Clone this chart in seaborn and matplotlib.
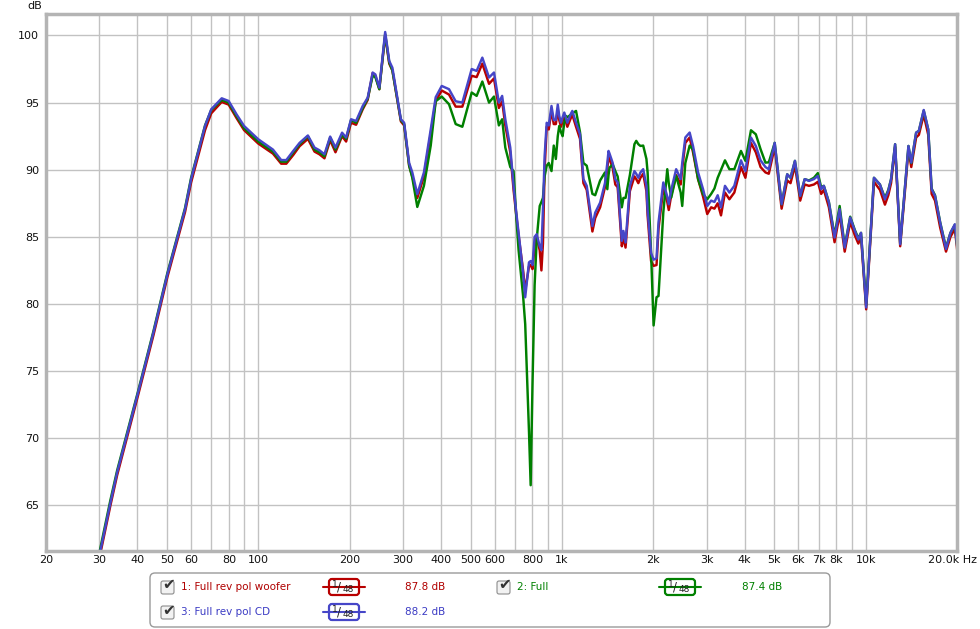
import matplotlib
matplotlib.use("Agg")
import matplotlib.pyplot as plt
import matplotlib.transforms as mtrans
from matplotlib.patches import FancyBboxPatch
from matplotlib.lines import Line2D
from matplotlib.ticker import NullFormatter
import pandas as pd
import seaborn as sns

# frequency points (Hz), shared by all three traces
freq = [30, 32.6, 34.3, 40.2, 45.2, 50.2, 57.4, 60.1, 66.8, 70,
        75.8, 79.9, 84.8, 89.8, 100, 111.8, 119, 123.7, 130.4, 136.8,
        145.7, 153.2, 159, 165.2, 172.5, 179.6, 188.8, 194.7, 202.1, 210,
        220.8, 229.3, 238.1, 243, 250.4, 261.8, 270, 276.5, 294.9, 302.3,
        314, 321.6, 334, 351.2, 369.8, 384, 402, 424.8, 446.8, 470,
        504.5, 523.8, 546.9, 575.4, 597.4, 620, 635.6, 651, 676, 693,
        706, 720, 745, 757, 779, 789, 800, 813, 826, 845,
        856, 866, 877, 891, 905, 924, 940, 955, 969, 980,
        993, 1005, 1018, 1033, 1042, 1072, 1082, 1113, 1147, 1177,
        1207, 1260, 1287, 1336, 1386, 1411, 1424, 1435, 1470, 1499,
        1526, 1575, 1594, 1620, 1674, 1733, 1757, 1785, 1814, 1852,
        1898, 1915, 1966, 2004, 2049, 2080, 2157, 2223, 2248, 2291,
        2378, 2461, 2490, 2549, 2634, 2702, 2808, 2916, 3010, 3101,
        3179, 3258, 3341, 3443, 3560, 3696, 3887, 4020, 4193, 4350,
        4510, 4680, 4800, 5020, 5290, 5520, 5660, 5853, 6091, 6302,
        6511, 6758, 6963, 7140, 7287, 7571, 7904, 8214, 8535, 8898,
        9222, 9466, 9660, 10045, 10656, 11149, 11580, 11880, 12130, 12510,
        13000, 13550, 13840, 14140, 14670, 14980, 15540, 16080, 16500, 16930,
        17600, 18400, 19030, 19680, 20100]

woofer_db = [61.1, 65.0, 67.25, 73.2, 77.7, 82.0, 86.85, 89.05, 92.95, 94.2,
             95.05, 94.85, 93.85, 92.95, 91.95, 91.2, 90.45, 90.45, 91.1, 91.75,
             92.3, 91.35, 91.15, 90.85, 92.2, 91.3, 92.5, 92.1, 93.5, 93.35,
             94.5, 95.2, 97.2, 97.0, 96.0, 100.0, 97.9, 97.4, 93.6, 93.3,
             90.3, 89.5, 87.9, 89.5, 92.7, 95.1, 95.9, 95.6, 94.7, 94.7,
             97.0, 96.9, 97.9, 96.4, 96.8, 94.6, 95.1, 93.3, 91.3, 88.5,
             86.8, 85.1, 82.5, 81.0, 82.8, 82.9, 82.6, 84.3, 85.0, 84.0,
             82.5, 84.5, 90.0, 93.2, 93.0, 94.4, 93.4, 93.4, 94.5, 93.7,
             93.2, 93.6, 93.9, 93.5, 93.2, 93.9, 94.1, 93.2, 92.3, 89.0,
             88.5, 85.4, 86.4, 87.2, 88.7, 90.1, 91.0, 90.8, 90.1, 88.9,
             88.7, 84.3, 85.0, 84.2, 88.4, 89.5, 89.3, 89.0, 89.4, 89.7,
             88.4, 86.6, 83.2, 82.84, 82.9, 85.6, 88.6, 87.6, 87.0, 88.1,
             89.6, 88.9, 90.1, 92.0, 92.4, 91.3, 89.3, 88.0, 86.7, 87.2,
             87.1, 87.5, 86.6, 88.3, 87.8, 88.3, 90.2, 89.4, 92.0, 91.3,
             90.2, 89.8, 89.7, 91.7, 87.1, 89.2, 89.0, 90.3, 87.7, 88.9,
             88.8, 88.9, 89.1, 88.2, 88.5, 87.2, 84.6, 86.7, 83.9, 86.1,
             85.1, 84.5, 85.0, 79.6, 89.1, 88.5, 87.4, 88.1, 89.0, 91.7,
             84.3, 89.0, 91.5, 90.2, 92.4, 92.6, 94.1, 92.6, 88.2, 87.7,
             85.7, 83.9, 85.0, 85.6, 83.7]

full_db = [61.5, 65.4, 67.6, 73.5, 78.0, 82.3, 87.15, 89.4, 93.3, 94.45,
           95.2, 95.0, 94.0, 93.1, 92.1, 91.35, 90.6, 90.6, 91.3, 91.9,
           92.5, 91.5, 91.3, 91.0, 92.4, 91.5, 92.6, 92.3, 93.7, 93.5,
           94.6, 95.3, 97.0, 96.9, 96.0, 100.1, 98.0, 97.4, 93.7, 93.4,
           90.3, 89.4, 87.23, 88.8, 91.8, 95.1, 95.45, 94.88, 93.4, 93.2,
           95.75, 95.5, 96.57, 95.0, 95.45, 93.3, 93.76, 91.65, 90.2, 89.9,
           86.8, 84.0, 80.6, 78.5, 70.5, 66.5, 74.0, 81.4, 84.8, 87.3,
           87.6, 87.9, 89.5, 90.3, 90.5, 89.9, 91.8, 90.8, 92.5, 93.26,
           92.8, 92.5, 93.5, 94.0, 93.9, 94.13, 94.2, 94.38, 92.8, 90.5,
           90.3, 88.2, 88.1, 89.2, 89.8, 88.55, 89.6, 90.16, 90.4, 89.9,
           89.5, 87.2, 87.9, 87.9, 89.6, 91.9, 92.15, 91.9, 91.77, 91.8,
           90.8, 89.8, 83.8, 78.4, 80.5, 80.6, 86.8, 90.04, 89.0, 87.93,
           89.54, 88.3, 87.3, 90.5, 91.8, 91.5, 89.3, 88.18, 87.8, 88.2,
           88.6, 89.4, 90.0, 90.7, 90.04, 90.04, 91.4, 90.66, 92.94, 92.64,
           91.53, 90.53, 90.55, 92.0, 87.43, 89.66, 89.4, 90.66, 88.05, 89.3,
           89.2, 89.4, 89.75, 88.7, 88.8, 87.6, 85.1, 87.3, 84.3, 86.5,
           85.5, 84.9, 85.3, 79.9, 89.4, 88.9, 87.9, 88.5, 89.3, 91.9,
           84.5, 89.3, 91.77, 90.5, 92.76, 92.9, 94.4, 93.0, 88.6, 88.1,
           86.1, 84.2, 85.3, 85.9, 84.0]

cd_db = [61.3, 65.2, 67.45, 73.4, 77.9, 82.2, 87.06, 89.3, 93.26, 94.5,
         95.32, 95.12, 94.13, 93.26, 92.27, 91.5, 90.72, 90.72, 91.4, 92.0,
         92.55, 91.65, 91.45, 91.15, 92.47, 91.65, 92.76, 92.4, 93.76, 93.63,
         94.75, 95.37, 97.24, 97.1, 96.12, 100.26, 98.1, 97.6, 93.76, 93.5,
         90.5, 89.8, 88.18, 89.8, 93.0, 95.4, 96.24, 96.0, 95.1, 95.0,
         97.5, 97.36, 98.35, 96.87, 97.24, 95.0, 95.5, 93.76, 91.65, 88.8,
         87.0, 85.3, 82.3, 80.5, 83.1, 83.2, 82.9, 85.0, 85.2, 84.3,
         84.0, 87.0, 91.0, 93.5, 93.3, 94.75, 93.7, 93.7, 94.85, 94.0,
         93.5, 93.9, 94.26, 93.8, 93.5, 94.2, 94.38, 93.5, 92.64, 89.3,
         88.8, 85.8, 86.8, 87.55, 89.0, 90.5, 91.4, 91.2, 90.5, 89.3,
         89.05, 84.7, 85.44, 84.58, 88.8, 89.9, 89.7, 89.4, 89.8, 90.04,
         88.8, 87.0, 83.8, 83.3, 83.4, 86.07, 89.05, 88.0, 87.43, 88.5,
         90.04, 89.3, 90.5, 92.4, 92.77, 91.77, 89.8, 88.55, 87.3, 87.7,
         87.6, 88.1, 87.2, 88.8, 88.3, 88.8, 90.7, 89.9, 92.4, 91.77,
         90.7, 90.2, 90.04, 92.0, 87.43, 89.66, 89.4, 90.66, 88.05, 89.3,
         89.17, 89.3, 89.54, 88.55, 88.8, 87.56, 84.95, 87.06, 84.2, 86.44,
         85.44, 84.8, 85.3, 79.74, 89.4, 88.9, 87.8, 88.42, 89.3, 91.9,
         84.45, 89.3, 91.77, 90.53, 92.76, 92.9, 94.45, 93.0, 88.55, 88.05,
         86.07, 84.1, 85.3, 85.94, 83.95]

series_names = ["1: Full rev pol woofer", "2: Full", "3: Full rev pol CD"]
series_colors = ["#b80000", "#008000", "#4646c8"]
text_colors = ["#b00000", "#008000", "#3c3cc4"]
avg_levels = ["87.8 dB", "87.4 dB", "88.2 dB"]

tick_freqs = [20, 30, 40, 50, 60, 80, 100, 200, 300, 400, 500, 600, 800,
              1000, 2000, 3000, 4000, 5000, 6000, 7000, 8000, 10000]
tick_labels = ["20", "30", "40", "50", "60", "80", "100", "200", "300", "400",
               "500", "600", "800", "1k", "2k", "3k", "4k", "5k", "6k", "7k",
               "8k", "10k"]
grid_freqs = ([f for f in range(20, 100, 10)] + [f for f in range(100, 1000, 100)]
              + [f for f in range(1000, 10000, 1000)] + [10000])
db_ticks = [65, 70, 75, 80, 85, 90, 95, 100]


def main():
    frames = []
    for name, vals in zip(series_names, [woofer_db, full_db, cd_db]):
        frames.append(pd.DataFrame({"freq": freq, "dB": vals, "series": name}))
    df = pd.concat(frames, ignore_index=True)

    sns.set_style("white")
    plt.rcParams["font.family"] = ["DejaVu Sans"]

    fig = plt.figure(figsize=(9.8, 6.29), dpi=100)
    ax = fig.add_axes([46 / 980, 1 - 551 / 629, 911 / 980, 537 / 629])

    palette = dict(zip(series_names, series_colors))
    sns.lineplot(data=df, x="freq", y="dB", hue="series", hue_order=series_names,
                 palette=palette, estimator=None, sort=False, linewidth=1.75,
                 legend=False, ax=ax)

    ax.set_xscale("log")
    ax.set_xlim(20, 20000)
    ax.set_ylim(61.6, 101.6)
    ax.set_xticks(tick_freqs, tick_labels)
    ax.set_xticks(grid_freqs, minor=True)
    ax.xaxis.set_minor_formatter(NullFormatter())
    ax.set_yticks(db_ticks)
    ax.grid(True, which="both", axis="x", color="#c2c2c2", linewidth=1.0)
    ax.grid(True, which="major", axis="y", color="#c2c2c2", linewidth=1.0)
    ax.set_axisbelow(True)
    ax.tick_params(which="both", length=0, labelsize=8, colors="#111111")
    ax.tick_params(axis="x", pad=3)
    ax.tick_params(axis="y", pad=5)
    ax.set_xlabel("")
    ax.set_ylabel("")
    for sp in ax.spines.values():
        sp.set_color("#b4b4b4")
        sp.set_linewidth(2.5)

    ax.annotate("20.0k Hz", xy=(20000, 0), xycoords=("data", "axes fraction"),
                xytext=(-3, -3), textcoords="offset points", ha="center", va="top",
                fontsize=8, color="#111111")

    # pixel coordinates of the picture, y measured from the top
    px = mtrans.Affine2D().scale(1 / 980, -1 / 629).translate(0, 1) + fig.transFigure
    fig.text(35, 6, "dB", transform=px, fontsize=8, ha="center", va="center", color="#111111")

    # legend panel below the plot
    fig.add_artist(FancyBboxPatch((150, 573), 680, 54, boxstyle="round,pad=0,rounding_size=5",
                                  transform=px, fc="white", ec="#9a9a9a", lw=1.0))
    slots = [(161, 181, 323, 405, 587), (497, 517, 659, 742, 587), (161, 181, 323, 405, 612)]
    for (cb_x, lab_x, mk_x, val_x, row), name, col, tcol, lvl in zip(
            slots, series_names, series_colors, text_colors, avg_levels):
        fig.add_artist(FancyBboxPatch((cb_x, row - 6), 13, 13, boxstyle="round,pad=0,rounding_size=2",
                                      transform=px, fc="#f2f2f2", ec="#8c8c8c", lw=0.8))
        fig.text(cb_x + 7.5, row - 2, "\u2714", transform=px, fontsize=11, ha="center",
                 va="center", color="#333333")
        fig.text(lab_x, row, name, transform=px, fontsize=7.5, ha="left", va="center", color=tcol)
        fig.add_artist(Line2D([mk_x, mk_x + 42], [row, row], transform=px, color=col, lw=1.5))
        fig.add_artist(FancyBboxPatch((mk_x + 6, row - 8), 30, 16, boxstyle="round,pad=0,rounding_size=3",
                                      transform=px, fc="white", ec=col, lw=1.6))
        fig.text(mk_x + 11.5, row - 2.5, "1", transform=px, fontsize=6.5, ha="center", va="center", color="#222222")
        fig.text(mk_x + 16, row, "/", transform=px, fontsize=8.5, ha="center", va="center", color="#222222")
        fig.text(mk_x + 25, row + 2.5, "48", transform=px, fontsize=6.5, ha="center", va="center", color="#222222")
        fig.text(val_x, row, lvl, transform=px, fontsize=7.5, ha="left", va="center", color=tcol)

    fig.savefig("out.png", dpi=100)


if __name__ == "__main__":
    main()
